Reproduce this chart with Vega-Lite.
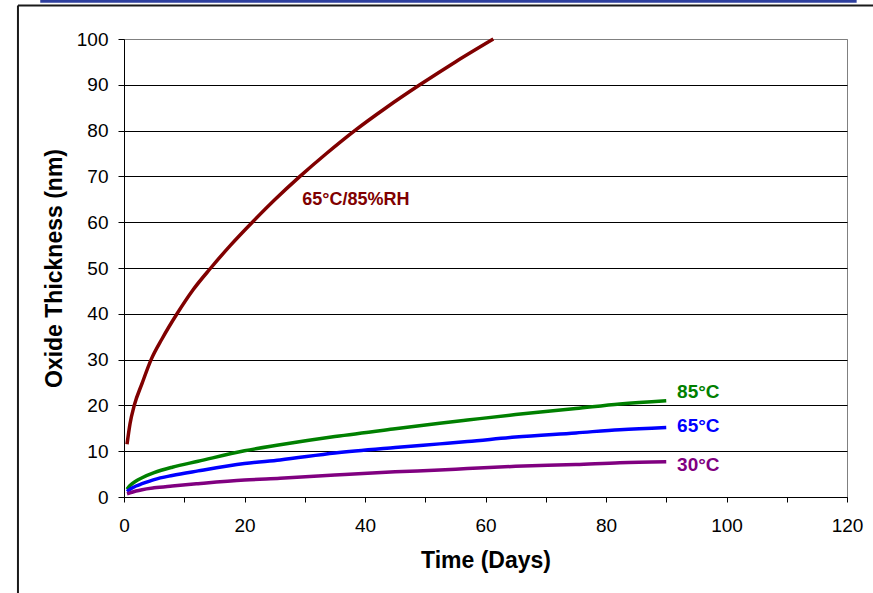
{
  "$schema": "https://vega.github.io/schema/vega-lite/v6.json",
  "width": 723,
  "height": 458,
  "autosize": {"type": "none"},
  "padding": {"left": 124, "top": 39, "right": 26, "bottom": 96},
  "background": "white",
  "config": {
    "font": "Liberation Sans",
    "view": {"stroke": "#808080", "strokeWidth": 1},
    "axis": {
      "labelFont": "Liberation Sans",
      "titleFont": "Liberation Sans",
      "labelFontSize": 19,
      "titleFontSize": 23,
      "titleFontWeight": "bold",
      "labelColor": "#000",
      "titleColor": "#000",
      "domainColor": "#000",
      "tickColor": "#000",
      "labelOverlap": false,
      "labelBound": false,
      "labelFlush": false
    }
  },
  "datasets": {
    "curves": [
      {"series": "65°C/85%RH", "t": 0.5, "y": 11.5},
      {"series": "65°C/85%RH", "t": 1, "y": 16},
      {"series": "65°C/85%RH", "t": 1.7, "y": 20},
      {"series": "65°C/85%RH", "t": 3, "y": 24.8},
      {"series": "65°C/85%RH", "t": 4.5, "y": 30},
      {"series": "65°C/85%RH", "t": 6.3, "y": 34.5},
      {"series": "65°C/85%RH", "t": 8.8, "y": 40},
      {"series": "65°C/85%RH", "t": 11.5, "y": 45.3},
      {"series": "65°C/85%RH", "t": 14.4, "y": 50},
      {"series": "65°C/85%RH", "t": 17.7, "y": 55},
      {"series": "65°C/85%RH", "t": 21.3, "y": 60},
      {"series": "65°C/85%RH", "t": 25.1, "y": 65},
      {"series": "65°C/85%RH", "t": 29.2, "y": 70},
      {"series": "65°C/85%RH", "t": 33.6, "y": 75},
      {"series": "65°C/85%RH", "t": 38.3, "y": 80},
      {"series": "65°C/85%RH", "t": 43.5, "y": 85},
      {"series": "65°C/85%RH", "t": 49.1, "y": 90},
      {"series": "65°C/85%RH", "t": 55.0, "y": 95},
      {"series": "65°C/85%RH", "t": 61.3, "y": 100},
      {"series": "85°C", "t": 0.5, "y": 1.7},
      {"series": "85°C", "t": 1, "y": 2.5},
      {"series": "85°C", "t": 2, "y": 3.5},
      {"series": "85°C", "t": 3, "y": 4.2},
      {"series": "85°C", "t": 5, "y": 5.3},
      {"series": "85°C", "t": 8, "y": 6.5},
      {"series": "85°C", "t": 12.3, "y": 7.8},
      {"series": "85°C", "t": 20, "y": 10.1},
      {"series": "85°C", "t": 25.9, "y": 11.4},
      {"series": "85°C", "t": 35, "y": 13.2},
      {"series": "85°C", "t": 45, "y": 14.9},
      {"series": "85°C", "t": 52.4, "y": 16.1},
      {"series": "85°C", "t": 57, "y": 16.8},
      {"series": "85°C", "t": 65, "y": 18.0},
      {"series": "85°C", "t": 75, "y": 19.3},
      {"series": "85°C", "t": 82.3, "y": 20.3},
      {"series": "85°C", "t": 90, "y": 21.0},
      {"series": "65°C", "t": 0.5, "y": 1.2},
      {"series": "65°C", "t": 1, "y": 1.7},
      {"series": "65°C", "t": 2, "y": 2.4},
      {"series": "65°C", "t": 3, "y": 2.9},
      {"series": "65°C", "t": 5, "y": 3.8},
      {"series": "65°C", "t": 8, "y": 4.7},
      {"series": "65°C", "t": 12.3, "y": 5.7},
      {"series": "65°C", "t": 20, "y": 7.3},
      {"series": "65°C", "t": 25.9, "y": 8.1},
      {"series": "65°C", "t": 35, "y": 9.6},
      {"series": "65°C", "t": 45, "y": 10.8},
      {"series": "65°C", "t": 52.4, "y": 11.6},
      {"series": "65°C", "t": 57, "y": 12.1},
      {"series": "65°C", "t": 65, "y": 13.1},
      {"series": "65°C", "t": 75, "y": 14.0},
      {"series": "65°C", "t": 82.3, "y": 14.7},
      {"series": "65°C", "t": 90, "y": 15.2},
      {"series": "30°C", "t": 0.5, "y": 0.7},
      {"series": "30°C", "t": 1, "y": 0.9},
      {"series": "30°C", "t": 2, "y": 1.3},
      {"series": "30°C", "t": 3, "y": 1.6},
      {"series": "30°C", "t": 5, "y": 2.0},
      {"series": "30°C", "t": 8, "y": 2.4},
      {"series": "30°C", "t": 12.3, "y": 2.9},
      {"series": "30°C", "t": 20, "y": 3.7},
      {"series": "30°C", "t": 25.9, "y": 4.1},
      {"series": "30°C", "t": 35, "y": 4.8},
      {"series": "30°C", "t": 45, "y": 5.5},
      {"series": "30°C", "t": 52.4, "y": 5.9},
      {"series": "30°C", "t": 57, "y": 6.2},
      {"series": "30°C", "t": 65, "y": 6.7},
      {"series": "30°C", "t": 75, "y": 7.1},
      {"series": "30°C", "t": 82.3, "y": 7.5},
      {"series": "30°C", "t": 90, "y": 7.7}
    ],
    "sideLabels": [
      {"series": "85°C", "t": 91.8, "y": 23.0},
      {"series": "65°C", "t": 91.8, "y": 15.5},
      {"series": "30°C", "t": 91.8, "y": 6.9}
    ],
    "centerLabels": [
      {"series": "65°C/85%RH", "t": 38.5, "y": 64.8}
    ]
  },
  "layer": [
    {
      "data": {"name": "curves"},
      "mark": {"type": "line", "strokeWidth": 3.5, "interpolate": "monotone"},
      "encoding": {
        "x": {
          "field": "t", "type": "quantitative",
          "scale": {"domain": [0, 120], "nice": false, "zero": false},
          "axis": {
            "title": "Time (Days)",
            "values": [0,5,10,15,20,25,30,35,40,45,50,55,60,65,70,75,80,85,90,95,100,105,110,115,120],
            "labelExpr": "datum.value % 20 === 0 ? datum.label : ''",
            "grid": false,
            "tickSize": 5,
            "labelPadding": 14,
            "titlePadding": 14
          }
        },
        "y": {
          "field": "y", "type": "quantitative",
          "scale": {"domain": [0, 100], "nice": false},
          "axis": {
            "title": "Oxide Thickness (nm)",
            "values": [0,10,20,30,40,50,60,70,80,90,100],
            "grid": true,
            "gridColor": {"condition": {"test": "datum.value === 100", "value": "#808080"}, "value": "#000000"},
            "gridWidth": 1,
            "gridOpacity": 1,
            "tickSize": 6,
            "labelPadding": 10,
            "titlePadding": 10
          }
        },
        "color": {
          "field": "series", "type": "nominal",
          "scale": {"domain": ["65°C/85%RH", "85°C", "65°C", "30°C"], "range": ["#800000", "#008000", "#0000ff", "#800080"]},
          "legend": null
        }
      }
    },
    {
      "data": {"name": "sideLabels"},
      "mark": {"type": "text", "align": "left", "baseline": "middle", "fontSize": 19, "fontWeight": "bold", "font": "Liberation Sans"},
      "encoding": {
        "x": {"field": "t", "type": "quantitative"},
        "y": {"field": "y", "type": "quantitative"},
        "text": {"field": "series"},
        "color": {"field": "series", "type": "nominal", "legend": null}
      }
    },
    {
      "data": {"name": "centerLabels"},
      "mark": {"type": "text", "align": "center", "baseline": "middle", "fontSize": 18, "fontWeight": "bold", "font": "Liberation Sans"},
      "encoding": {
        "x": {"field": "t", "type": "quantitative"},
        "y": {"field": "y", "type": "quantitative"},
        "text": {"field": "series"},
        "color": {"field": "series", "type": "nominal", "legend": null}
      }
    },
    {
      "data": {"values": [{}]},
      "mark": {"type": "rect", "color": "#2e3f9e", "clip": false},
      "encoding": {
        "x": {"datum": -13.9, "type": "quantitative"},
        "x2": {"datum": 121.6},
        "y": {"datum": 107.9, "type": "quantitative"},
        "y2": {"datum": 108.6}
      }
    },
    {
      "data": {"values": [{}]},
      "mark": {"type": "rule", "color": "#1a1a1a", "strokeWidth": 2, "clip": false},
      "encoding": {
        "x": {"datum": -17.6, "type": "quantitative"},
        "x2": {"datum": 125},
        "y": {"datum": 107.3, "type": "quantitative"}
      }
    },
    {
      "data": {"values": [{}]},
      "mark": {"type": "rule", "color": "#1a1a1a", "strokeWidth": 2, "clip": false},
      "encoding": {
        "x": {"datum": -17.6, "type": "quantitative"},
        "y": {"datum": 107.3, "type": "quantitative"},
        "y2": {"datum": -22}
      }
    }
  ]
}
